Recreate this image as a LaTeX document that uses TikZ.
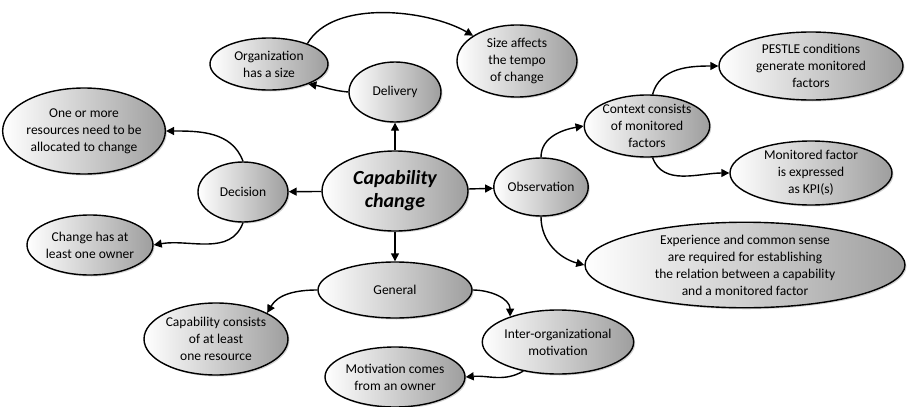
\documentclass[tikz,border=0pt]{standalone}
\usepackage{fontspec}
\setmainfont{Carlito}
\usetikzlibrary{arrows.meta,shapes.geometric,shadows}
\begin{document}
\begin{tikzpicture}[x=1pt, y=1pt,
    topic/.style={ellipse, draw, line width=1.4pt, inner sep=0pt, align=center,
        left color=white, right color=black!38,
        drop shadow={shadow xshift=1.5pt, shadow yshift=-1.5pt, opacity=0.35},
        font=\fontsize{13.5}{17}\selectfont},
    arr/.style={-{Triangle[width=8pt,length=8pt]}, line width=1.4pt}]
    \useasboundingbox (0,0) rectangle (908,-407);
    \node[topic, minimum width=146, minimum height=80,
        font=\fontsize{20}{23}\selectfont\bfseries\itshape] (cap) at (395,-191) {Capability\\change};
    \node[topic, minimum width=92, minimum height=60] (del) at (395,-92) {Delivery};
    \node[topic, minimum width=118, minimum height=52] (org) at (269,-64) {Organization\\has a size};
    \node[topic, minimum width=120, minimum height=72] (siz) at (517,-61) {Size affects\\the tempo\\of change};
    \node[topic, minimum width=90, minimum height=60] (dec) at (243,-192) {Decision};
    \node[topic, minimum width=148, minimum height=86] (res) at (84,-131) {One or more\\resources need to be\\allocated to change};
    \node[topic, minimum width=126, minimum height=60] (own) at (90,-245) {Change has at\\least one owner};
    \node[topic, minimum width=88, minimum height=58] (obs) at (541,-187) {Observation};
    \node[topic, minimum width=120, minimum height=62] (ctx) at (647,-126) {Context consists\\of monitored\\factors};
    \node[topic, minimum width=184, minimum height=68] (pes) at (811,-66) {PESTLE conditions\\generate monitored\\factors};
    \node[topic, minimum width=162, minimum height=60] (kpi) at (811,-173) {Monitored factor\\is expressed\\as KPI(s)};
    \node[topic, minimum width=320, minimum height=80] (exp) at (745,-265) {Experience and common sense\\are required for establishing\\the relation between a capability\\and a monitored factor};
    \node[topic, minimum width=154, minimum height=56] (gen) at (395,-290) {General};
    \node[topic, minimum width=144, minimum height=72] (cco) at (216,-339) {Capability consists\\of at least\\one resource};
    \node[topic, minimum width=136, minimum height=64] (int) at (558,-342) {Inter-organizational\\motivation};
    \node[topic, minimum width=140, minimum height=60] (mot) at (395,-377) {Motivation comes\\from an owner};
    \draw[arr] (cap) -- (del);
    \draw[arr] (cap) -- (dec);
    \draw[arr] (cap) -- (obs);
    \draw[arr] (cap) -- (gen);
    \draw[arr] (del.west) to[out=175, in=-10] (org.-27);
    \draw[arr] (org.28) to[out=60, in=150, looseness=0.8] (siz.150);
    \draw[arr] (dec.north) to[out=110, in=0] (res.east);
    \draw[arr] (dec.south) to[out=-110, in=10] (own.east);
    \draw[arr] (obs.north) to[out=90, in=190] (ctx.west);
    \draw[arr] (ctx.80) to[out=75, in=180] (pes.west);
    \draw[arr] (ctx.-80) to[out=-70, in=180] (kpi.west);
    \draw[arr] (obs.south) to[out=-90, in=165] (exp.west);
    \draw[arr] (gen.west) to[out=180, in=60] (cco.27);
    \draw[arr] (gen.east) to[out=0, in=90] (int.152);
    \draw[arr] (int.-140) to[out=-150, in=5] (mot.east);
\end{tikzpicture}
\end{document}
